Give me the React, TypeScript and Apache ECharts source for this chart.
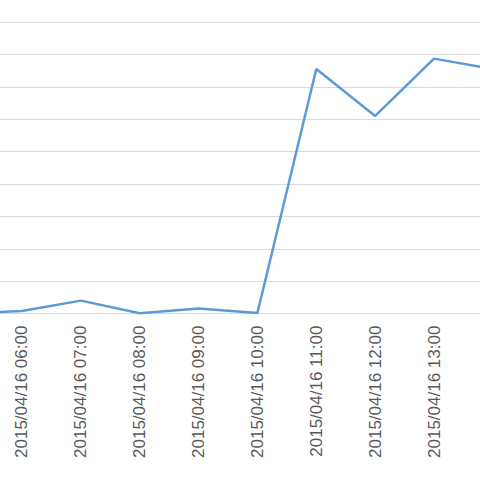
import React, { useEffect, useRef } from "react";
import * as echarts from "echarts";

const categories = [
  "2015/04/16 05:00",
  "2015/04/16 06:00",
  "2015/04/16 07:00",
  "2015/04/16 08:00",
  "2015/04/16 09:00",
  "2015/04/16 10:00",
  "2015/04/16 11:00",
  "2015/04/16 12:00",
  "2015/04/16 13:00",
  "2015/04/16 14:00",
];
const values = [0.0, 0.08, 0.4, 0.01, 0.16, 0.02, 7.55, 6.1, 7.87, 7.55];

const OFFSET = 60;
const CHART_W = 600;

export default function App() {
  const ref = useRef<HTMLDivElement>(null);
  useEffect(() => {
    if (!ref.current) return;
    const chart = echarts.init(ref.current, null, { renderer: "svg" });
    chart.setOption({
      animation: false,
      backgroundColor: "#ffffff",
      grid: {
        left: OFFSET - 36.9,
        right: CHART_W - (OFFSET + 492.9),
        top: 22,
        bottom: 166.4,
        containLabel: false,
        outerBoundsMode: "none",
      },
      xAxis: {
        type: "category",
        data: categories,
        boundaryGap: false,
        axisLine: { show: true, lineStyle: { color: "#D9D9D9", width: 1 } },
        axisTick: { show: false },
        axisLabel: {
          rotate: 90,
          margin: 12,
          interval: (i: number) => i > 0 && i < categories.length - 1,
          color: "#595959",
          fontSize: 17,
          fontFamily: "Liberation Sans",
        },
        splitLine: { show: false },
      },
      yAxis: {
        type: "value",
        min: 0,
        max: 9,
        interval: 1,
        axisLine: { show: false },
        axisTick: { show: false },
        axisLabel: { show: false },
        splitLine: { show: true, lineStyle: { color: "#D9D9D9", width: 1 } },
      },
      series: [
        {
          type: "line",
          data: values,
          symbol: "none",
          lineStyle: { color: "#5B9BD5", width: 2.5 },
          itemStyle: { color: "#5B9BD5" },
        },
      ],
    });
    return () => chart.dispose();
  }, []);
  return (
    <div style={{ position: "absolute", left: 0, top: 0, width: 480, height: 480, overflow: "hidden", background: "#fff" }}>
      <div ref={ref} style={{ position: "absolute", left: -OFFSET, top: 0, width: CHART_W, height: 480 }} />
    </div>
  );
}
